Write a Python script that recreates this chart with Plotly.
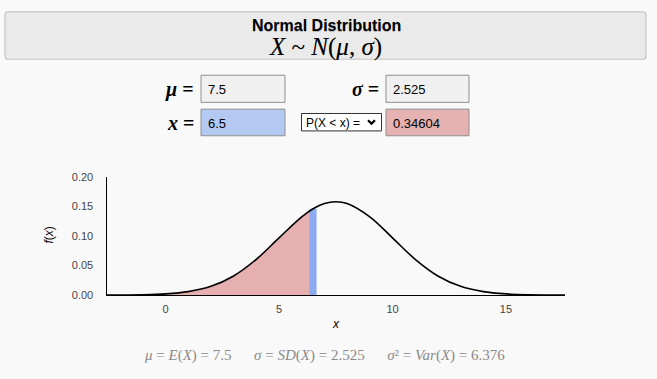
import plotly.graph_objects as go

# ---- data ----
mu = 7.5
sigma = 2.525
x_val = 6.5
prob_text = "0.34604"
variance_text = "6.376"
mode_label = "P(X < x) ="

curve_x = [-2.6, -1, 0, 1, 2, 3, 4, 5, 6, 6.5, 7, 7.5, 8, 9, 10, 11, 12, 13, 14, 15, 16, 17.6]
curve_y = [0.0001, 0.0005, 0.0019, 0.0058, 0.0147, 0.0323, 0.0605, 0.0968, 0.1324, 0.1461, 0.155, 0.158,
           0.155, 0.1324, 0.0968, 0.0605, 0.0323, 0.0147, 0.0058, 0.0019, 0.0005, 0.0001]
shade_x = [v for v in curve_x if v <= x_val]
shade_y = curve_y[:len(shade_x)]
band_height = 0.1461

x_ticks = [0, 5, 10, 15]
y_ticks = [0.0, 0.05, 0.10, 0.15, 0.20]

W, H = 657, 379
def px(v): return v / W
def py(v): return 1 - v / H

fig = go.Figure()
fig.add_trace(go.Scatter(x=shade_x, y=shade_y, mode="lines", line=dict(width=0, shape="spline", color="#e6b0b0"),
                         fill="tozeroy", fillcolor="#e6b0b0", hoverinfo="skip", showlegend=False))
fig.add_trace(go.Scatter(x=[x_val, x_val], y=[0, band_height], mode="lines",
                         line=dict(width=7, color="#8caaf0"), hoverinfo="skip", showlegend=False))
fig.add_trace(go.Scatter(x=curve_x, y=curve_y, mode="lines", line=dict(width=1.6, color="black", shape="spline"),
                         showlegend=False))

shapes = []
annotations = []

def ann(text, x, y, size, family="Liberation Sans", color="black", xanchor="center", **kw):
    annotations.append(dict(text=text, x=px(x), y=py(y), xref="paper", yref="paper", xanchor=xanchor,
                            yanchor="middle", showarrow=False, font=dict(family=family, size=size, color=color), **kw))

# title box with rounded corners
x0, x1, y0, y1, r = 5, 646, 6, 55, 3
path = (f"M {px(x0 + r)} {py(y0)} L {px(x1 - r)} {py(y0)} Q {px(x1)} {py(y0)} {px(x1)} {py(y0 + r)} "
        f"L {px(x1)} {py(y1 - r)} Q {px(x1)} {py(y1)} {px(x1 - r)} {py(y1)} "
        f"L {px(x0 + r)} {py(y1)} Q {px(x0)} {py(y1)} {px(x0)} {py(y1 - r)} "
        f"L {px(x0)} {py(y0 + r)} Q {px(x0)} {py(y0)} {px(x0 + r)} {py(y0)} Z")
shapes.append(dict(type="path", xref="paper", yref="paper", path=path,
                   fillcolor="#eaeaea", line=dict(color="#c6c6c6", width=1.2), layer="below"))
ann("<b>Normal Distribution</b>", 326.8, 20.8, 16, color="rgba(0,0,0,0.22)")
ann("<b>Normal Distribution</b>", 326, 20, 16)
ann("<i>X</i> ~ <i>N</i>(<i>μ</i>, <i>σ</i>)", 325.8, 42.8, 25, family="Liberation Serif", color="rgba(0,0,0,0.22)")
ann("<i>X</i> ~ <i>N</i>(<i>μ</i>, <i>σ</i>)", 325, 42, 25, family="Liberation Serif")

def box(x0, x1, y0, y1, fill, line="#8f8f8f"):
    shapes.append(dict(type="rect", xref="paper", yref="paper", x0=px(x0), x1=px(x1), y0=py(y1), y1=py(y0),
                       fillcolor=fill, line=dict(color=line, width=1)))

box(201, 285, 71.5, 99.5, "#f0f0f0")
box(386, 469, 71.5, 99.5, "#f0f0f0")
box(201, 285, 106.5, 134, "#b3c9f2")
box(386, 469, 106.5, 134, "#e6b1b1")
box(301.5, 381.5, 111, 129, "white", line="#333333")
ann("<b><i>μ</i> =</b>", 196, 86, 20, family="Liberation Serif", xanchor="right")
ann("<b><i>σ</i> =</b>", 381, 86, 20, family="Liberation Serif", xanchor="right")
ann("<b><i>x</i> =</b>", 196, 121, 20, family="Liberation Serif", xanchor="right")
ann(str(mu), 206, 86, 13, xanchor="left")
ann(str(sigma), 391, 86, 13, xanchor="left")
ann(str(x_val), 206, 121, 13, xanchor="left")
ann(prob_text, 391, 121, 13, xanchor="left")
ann(mode_label, 303.5, 120.5, 12, xanchor="left")
# chevron
shapes.append(dict(type="path", xref="paper", yref="paper",
                   path=f"M {px(368)} {py(118)} L {px(371.5)} {py(121.5)} L {px(375)} {py(118)}",
                   line=dict(color="black", width=2.2)))

# axis titles
ann("<i>x</i>", 336, 328, 12)
ann("<i>f</i>(<i>x</i>)", 49, 237, 12, textangle=-90)

# bottom stats
sp = "&nbsp;"
ann(f"<i>μ</i> = <i>E</i>(<i>X</i>) = {mu}{sp*6}<i>σ</i> = <i>SD</i>(<i>X</i>) = {sigma}{sp*6}"
    f"<i>σ</i>² = <i>Var</i>(<i>X</i>) = {variance_text}", 324.5, 360.5, 15, family="Liberation Serif", color="#8a8a8a")

fig.update_layout(
    width=W, height=H, margin=dict(l=0, r=0, t=0, b=0),
    paper_bgcolor="#f9f9f9", plot_bgcolor="rgba(0,0,0,0)",
    shapes=shapes, annotations=annotations,
    xaxis=dict(domain=[px(106.5), px(565)], range=[-2.6, 17.6], showgrid=False, zeroline=False,
               showline=True, linecolor="black", linewidth=1.2, tickvals=x_ticks,
               tickfont=dict(family="Liberation Sans", size=11, color="#444"), ticks="outside",
               ticklen=4, tickcolor="rgba(0,0,0,0)", fixedrange=True),
    yaxis=dict(domain=[py(298.5), py(176.5)], range=[0, 0.2], showgrid=False, zeroline=False,
               showline=True, linecolor="black", linewidth=1.2, tickvals=y_ticks, tickformat=".2f",
               tickfont=dict(family="Liberation Sans", size=11, color="#444"), ticks="outside",
               ticklen=10, tickcolor="rgba(0,0,0,0)", fixedrange=True),
)
fig.write_html("out.html", config={"displayModeBar": False},
               post_script="document.body.style.margin='0';document.body.style.overflow='hidden';"
                           "document.body.style.background='#f9f9f9';")
